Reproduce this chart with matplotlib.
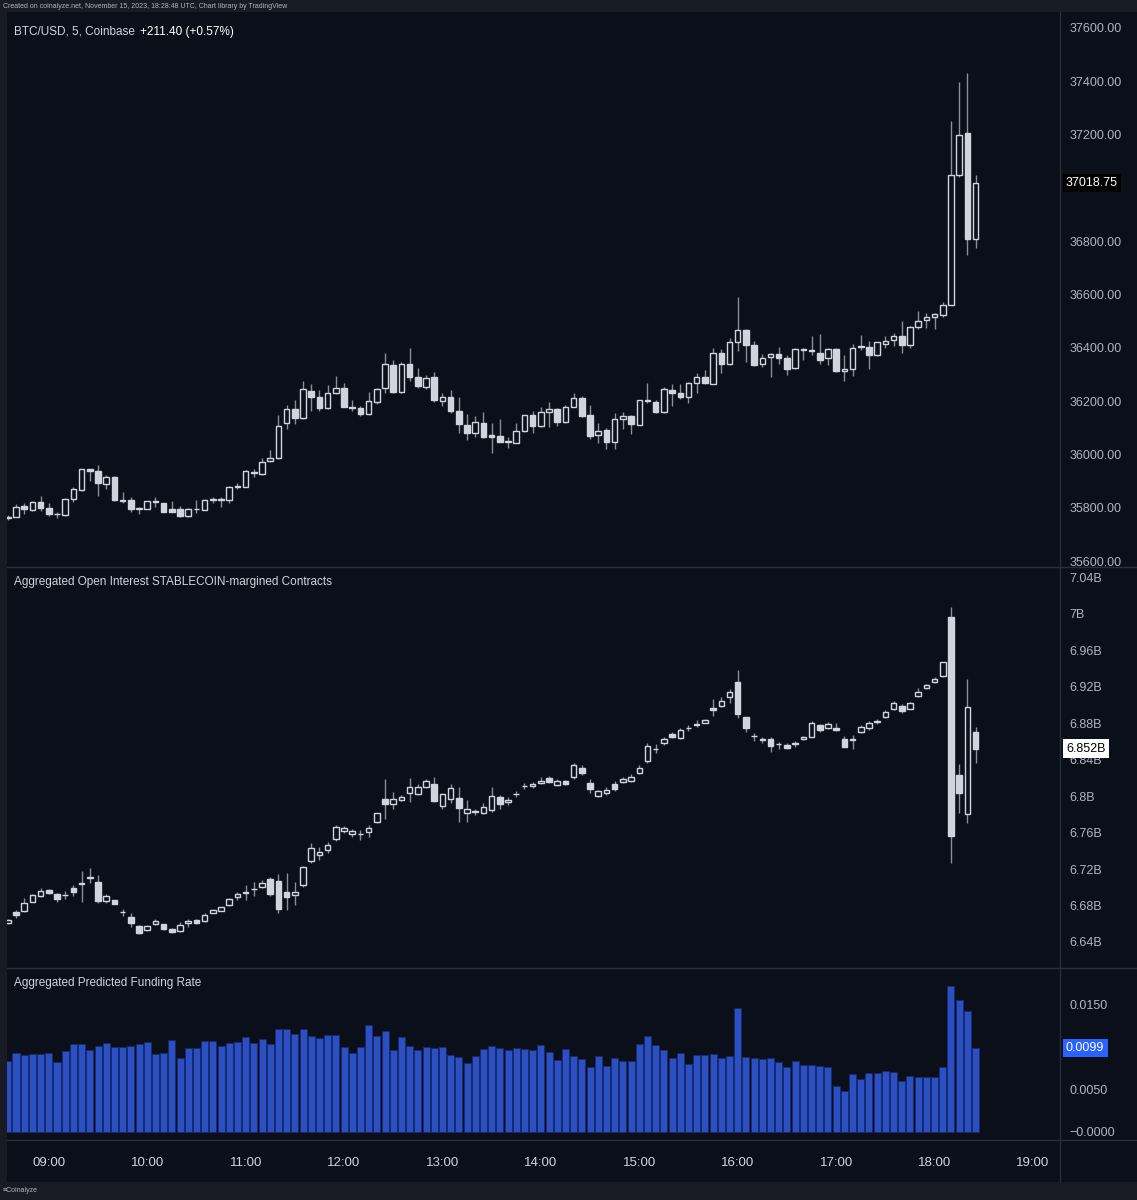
import numpy as np
import matplotlib.pyplot as plt
import matplotlib.transforms as mtransforms
from matplotlib.patches import Rectangle
from matplotlib.lines import Line2D

plt.rcParams['font.family'] = ['Liberation Sans', 'DejaVu Sans']

# 5 minute bars, first bar 08:35, last bar 18:25
time_labels = ["09:00", "10:00", "11:00", "12:00", "13:00", "14:00",
               "15:00", "16:00", "17:00", "18:00", "19:00"]
first_tick_bar = 5      # 09:00 is the 6th bar
bars_per_hour = 12

price_open = [35760, 35766, 35806, 35791, 35821, 35800, 35778, 35771, 35832, 35866,
              35944, 35939, 35889, 35916, 35830, 35829, 35799, 35796, 35824, 35816,
              35794, 35795, 35769, 35796, 35791, 35832, 35830, 35829, 35877, 35876,
              35932, 35926, 35975, 35985, 36116, 36169, 36135, 36239, 36215, 36173,
              36229, 36251, 36176, 36173, 36150, 36198, 36248, 36334, 36234, 36341,
              36289, 36254, 36289, 36200, 36216, 36163, 36109, 36081, 36119, 36071,
              36070, 36049, 36044, 36088, 36146, 36106, 36159, 36170, 36120, 36179,
              36213, 36146, 36071, 36090, 36046, 36131, 36144, 36111, 36203, 36198,
              36160, 36241, 36231, 36216, 36269, 36289, 36266, 36379, 36338, 36420,
              36466, 36410, 36339, 36364, 36375, 36362, 36325, 36395, 36390, 36382,
              36360, 36396, 36314, 36319, 36402, 36404, 36372, 36416, 36429, 36446,
              36412, 36479, 36504, 36514, 36522, 36562, 37050, 37206, 36807]
price_high = [35772, 35814, 35816, 35826, 35844, 35816, 35785, 35835, 35876, 35946,
              35946, 35960, 35924, 35919, 35860, 35841, 35801, 35826, 35839, 35819,
              35826, 35806, 35800, 35829, 35831, 35841, 35839, 35881, 35891, 35941,
              35944, 35985, 36016, 36147, 36185, 36206, 36275, 36266, 36241, 36262,
              36294, 36269, 36206, 36181, 36234, 36248, 36379, 36356, 36348, 36398,
              36323, 36298, 36310, 36231, 36241, 36214, 36151, 36144, 36160, 36119,
              36131, 36066, 36116, 36149, 36164, 36179, 36198, 36173, 36185, 36229,
              36219, 36185, 36116, 36098, 36156, 36158, 36148, 36206, 36269, 36204,
              36254, 36263, 36266, 36273, 36304, 36316, 36398, 36395, 36435, 36589,
              36469, 36426, 36376, 36379, 36404, 36372, 36401, 36398, 36445, 36450,
              36401, 36401, 36372, 36414, 36448, 36425, 36422, 36444, 36457, 36500,
              36481, 36539, 36529, 36531, 36570, 37250, 37396, 37432, 37048]
price_low = [35754, 35764, 35776, 35789, 35786, 35769, 35760, 35770, 35822, 35864,
             35901, 35845, 35869, 35827, 35816, 35785, 35776, 35795, 35804, 35784,
             35782, 35764, 35766, 35779, 35790, 35819, 35804, 35816, 35869, 35876,
             35914, 35922, 35970, 35981, 36094, 36114, 36132, 36164, 36163, 36169,
             36226, 36176, 36164, 36144, 36148, 36188, 36229, 36231, 36229, 36276,
             36250, 36245, 36196, 36183, 36154, 36079, 36054, 36066, 36060, 36006,
             36045, 36023, 36041, 36085, 36081, 36101, 36104, 36106, 36116, 36176,
             36141, 36056, 36044, 36021, 36019, 36094, 36076, 36109, 36194, 36154,
             36156, 36181, 36209, 36194, 36229, 36264, 36264, 36304, 36335, 36389,
             36348, 36331, 36329, 36291, 36341, 36297, 36322, 36354, 36372, 36341,
             36337, 36311, 36276, 36296, 36391, 36322, 36370, 36401, 36406, 36379,
             36398, 36471, 36473, 36469, 36516, 36560, 37042, 36748, 36773]
price_close = [35766, 35804, 35794, 35821, 35799, 35776, 35775, 35832, 35869, 35944,
               35939, 35891, 35916, 35829, 35827, 35795, 35796, 35825, 35821, 35785,
               35782, 35769, 35795, 35794, 35829, 35830, 35832, 35876, 35880, 35939,
               35935, 35972, 35988, 36108, 36172, 36138, 36244, 36214, 36173, 36229,
               36251, 36179, 36174, 36151, 36201, 36245, 36338, 36234, 36341, 36289,
               36256, 36288, 36203, 36216, 36163, 36113, 36081, 36120, 36066, 36066,
               36048, 36046, 36088, 36146, 36106, 36159, 36170, 36120, 36176, 36213,
               36144, 36070, 36088, 36045, 36133, 36145, 36114, 36204, 36200, 36160,
               36245, 36231, 36216, 36269, 36289, 36269, 36379, 36339, 36420, 36466,
               36410, 36337, 36362, 36375, 36362, 36320, 36396, 36392, 36387, 36356,
               36396, 36314, 36322, 36401, 36405, 36372, 36420, 36426, 36446, 36410,
               36479, 36500, 36514, 36526, 36562, 37050, 37198, 36807, 37018.75]

# open interest, billions USD
oi_open = [6.6605, 6.6732, 6.6743, 6.6838, 6.6908, 6.6966, 6.6922, 6.6919, 6.6995, 6.7047,
           6.7105, 6.7061, 6.6853, 6.6857, 6.6732, 6.6678, 6.6572, 6.6532, 6.6597, 6.6594,
           6.6542, 6.6524, 6.6608, 6.6645, 6.6634, 6.6721, 6.6743, 6.6805, 6.6890, 6.6941,
           6.6977, 6.7006, 6.7090, 6.7072, 6.6952, 6.6915, 6.7025, 6.7291, 6.7350, 6.7408,
           6.7532, 6.7620, 6.7580, 6.7587, 6.7609, 6.7719, 6.7967, 6.7909, 6.7956, 6.8029,
           6.8022, 6.8095, 6.8131, 6.7894, 6.7963, 6.7982, 6.7810, 6.7832, 6.7817, 6.7847,
           6.7993, 6.7930, 6.8018, 6.8106, 6.8113, 6.8142, 6.8194, 6.8124, 6.8168, 6.8212,
           6.8307, 6.8139, 6.7999, 6.8029, 6.8128, 6.8153, 6.8164, 6.8256, 6.8387, 6.8511,
           6.8577, 6.8680, 6.8639, 6.8742, 6.8782, 6.8804, 6.8968, 6.8986, 6.9081, 6.9253,
           6.8862, 6.8661, 6.8625, 6.8621, 6.8574, 6.8555, 6.8574, 6.8621, 6.8650, 6.8775,
           6.8745, 6.8749, 6.8628, 6.8625, 6.8698, 6.8745, 6.8811, 6.8869, 6.8950, 6.8990,
           6.8957, 6.9096, 6.9180, 6.9249, 6.9315, 6.9958, 6.8230, 6.7799, 6.8705]
oi_high = [6.6652, 6.6751, 6.6879, 6.6922, 6.6995, 6.6984, 6.6941, 6.6959, 6.7021, 6.7178,
           6.7215, 6.7134, 6.6926, 6.6864, 6.6765, 6.6721, 6.6583, 6.6586, 6.6652, 6.6601,
           6.6557, 6.6619, 6.6656, 6.6652, 6.6721, 6.6758, 6.6787, 6.6886, 6.6952, 6.7025,
           6.7054, 6.7079, 6.7116, 6.7145, 6.7153, 6.7061, 6.7233, 6.7481, 6.7437, 6.7500,
           6.7679, 6.7671, 6.7638, 6.7627, 6.7682, 6.7817, 6.8183, 6.8040, 6.8011, 6.8194,
           6.8131, 6.8183, 6.8212, 6.8029, 6.8128, 6.8095, 6.7956, 6.7854, 6.7927, 6.8095,
           6.8011, 6.7985, 6.8058, 6.8139, 6.8157, 6.8212, 6.8219, 6.8183, 6.8175, 6.8365,
           6.8336, 6.8183, 6.8066, 6.8095, 6.8168, 6.8205, 6.8241, 6.8340, 6.8577, 6.8570,
           6.8643, 6.8701, 6.8742, 6.8778, 6.8833, 6.8840, 6.9059, 6.9089, 6.9169, 6.9381,
           6.8869, 6.8694, 6.8650, 6.8650, 6.8595, 6.8584, 6.8606, 6.8658, 6.8822, 6.8789,
           6.8807, 6.8796, 6.8658, 6.8668, 6.8778, 6.8818, 6.8840, 6.8942, 6.9041, 6.9008,
           6.9034, 6.9180, 6.9224, 6.9308, 6.9472, 7.0068, 6.8347, 6.9278, 6.8753]
oi_low = [6.6597, 6.6659, 6.6732, 6.6835, 6.6897, 6.6930, 6.6842, 6.6868, 6.6904, 6.6835,
          6.7043, 6.6824, 6.6831, 6.6813, 6.6685, 6.6561, 6.6488, 6.6521, 6.6590, 6.6532,
          6.6499, 6.6510, 6.6561, 6.6601, 6.6623, 6.6714, 6.6740, 6.6795, 6.6860, 6.6860,
          6.6904, 6.6988, 6.6904, 6.6714, 6.6751, 6.6805, 6.6999, 6.7262, 6.7299, 6.7379,
          6.7511, 6.7591, 6.7547, 6.7518, 6.7554, 6.7708, 6.7744, 6.7854, 6.7945, 6.7938,
          6.8011, 6.8088, 6.7938, 6.7861, 6.7927, 6.7719, 6.7719, 6.7792, 6.7803, 6.7821,
          6.7854, 6.7900, 6.7985, 6.8073, 6.8091, 6.8131, 6.8139, 6.8110, 6.8124, 6.8183,
          6.8234, 6.8037, 6.7985, 6.8007, 6.8058, 6.8139, 6.8153, 6.8241, 6.8365, 6.8475,
          6.8559, 6.8632, 6.8621, 6.8716, 6.8753, 6.8796, 6.8877, 6.8972, 6.9016, 6.8851,
          6.8705, 6.8606, 6.8585, 6.8486, 6.8511, 6.8519, 6.8541, 6.8614, 6.8643, 6.8701,
          6.8731, 6.8712, 6.8533, 6.8515, 6.8687, 6.8723, 6.8789, 6.8858, 6.8942, 6.8906,
          6.8950, 6.9081, 6.9173, 6.9242, 6.9308, 6.7262, 6.7817, 6.7700, 6.8358]
oi_close = [6.6641, 6.6696, 6.6831, 6.6911, 6.6955, 6.6941, 6.6868, 6.6911, 6.6948, 6.7039,
            6.7112, 6.6849, 6.6904, 6.6816, 6.6725, 6.6605, 6.6502, 6.6572, 6.6630, 6.6539,
            6.6510, 6.6590, 6.6630, 6.6608, 6.6696, 6.6751, 6.6780, 6.6871, 6.6922, 6.6948,
            6.6984, 6.7043, 6.6922, 6.6765, 6.6897, 6.6948, 6.7226, 6.7427, 6.7383, 6.7463,
            6.7664, 6.7646, 6.7616, 6.7580, 6.7653, 6.7810, 6.7912, 6.7967, 6.7993, 6.8095,
            6.8102, 6.8168, 6.7949, 6.8018, 6.8084, 6.7865, 6.7861, 6.7825, 6.7876, 6.8000,
            6.7909, 6.7960, 6.8026, 6.8113, 6.8135, 6.8168, 6.8150, 6.8168, 6.8131, 6.8336,
            6.8256, 6.8080, 6.8058, 6.8066, 6.8073, 6.8186, 6.8212, 6.8303, 6.8552, 6.8519,
            6.8621, 6.8650, 6.8727, 6.8749, 6.8789, 6.8829, 6.8942, 6.9037, 6.9140, 6.8899,
            6.8742, 6.8654, 6.8617, 6.8548, 6.8566, 6.8530, 6.8581, 6.8643, 6.8796, 6.8723,
            6.8789, 6.8720, 6.8541, 6.8617, 6.8760, 6.8796, 6.8818, 6.8924, 6.9023, 6.8931,
            6.9023, 6.9140, 6.9213, 6.9282, 6.9465, 6.7562, 6.8037, 6.8979, 6.8520]

funding = [0.00836, 0.00926, 0.00906, 0.00918, 0.00918, 0.00926, 0.00820, 0.00945, 0.01035, 0.01031,
           0.00965, 0.01004, 0.01043, 0.01000, 0.01000, 0.01012, 0.01031, 0.01055, 0.00918, 0.00926,
           0.01082, 0.00863, 0.00988, 0.00984, 0.01066, 0.01066, 0.01012, 0.01047, 0.01051, 0.01109,
           0.01047, 0.01086, 0.01035, 0.01207, 0.01203, 0.01145, 0.01207, 0.01121, 0.01105, 0.01133,
           0.01133, 0.01000, 0.00930, 0.01000, 0.01250, 0.01121, 0.01184, 0.00961, 0.01113, 0.01012,
           0.00965, 0.01000, 0.00984, 0.01000, 0.00906, 0.00875, 0.00809, 0.00891, 0.00973, 0.01008,
           0.00984, 0.00965, 0.00984, 0.00977, 0.00965, 0.01020, 0.00941, 0.00844, 0.00977, 0.00891,
           0.00852, 0.00758, 0.00891, 0.00777, 0.00863, 0.00832, 0.00836, 0.01027, 0.01121, 0.01016,
           0.00961, 0.00863, 0.00926, 0.00801, 0.00906, 0.00902, 0.00914, 0.00871, 0.00895, 0.01453,
           0.00879, 0.00867, 0.00855, 0.00867, 0.00824, 0.00766, 0.00836, 0.00785, 0.00785, 0.00773,
           0.00762, 0.00539, 0.00480, 0.00684, 0.00621, 0.00695, 0.00695, 0.00719, 0.00707, 0.00598,
           0.00652, 0.00645, 0.00641, 0.00641, 0.00762, 0.01711, 0.01547, 0.01422, 0.00988]

price_ticks = [35600, 35800, 36000, 36200, 36400, 36600, 36800, 37000, 37200, 37400, 37600]
oi_ticks = [6.64, 6.68, 6.72, 6.76, 6.80, 6.84, 6.88, 6.92, 6.96, 7.00, 7.04]
funding_ticks = [0.0, 0.005, 0.015]
funding_tick_labels = ["\u22120.0000", "0.0050", "0.0150"]

# colours
BG = '#0b0f19'
STRIP = '#181b23'
SEP = '#2a2e39'
TXT = '#b2b5be'
WICK = '#8b8e97'
CANDLE = '#d1d4dc'
BLUE = '#2b4fc4'

W, H = 1137, 1200
fig = plt.figure(figsize=(W / 100, H / 100), dpi=100, facecolor=BG)


def px_axes(x0, y0, x1, y1):
    ax = fig.add_axes([x0 / W, 1 - y1 / H, (x1 - x0) / W, (y1 - y0) / H])
    ax.set_facecolor(BG)
    for s in ax.spines.values():
        s.set_visible(False)
    ax.yaxis.tick_right()
    ax.tick_params(axis='y', length=0, pad=7, labelsize=9, labelcolor=TXT)
    ax.tick_params(axis='x', length=0, labelbottom=False)
    ax.set_xlim(-0.1, 128.3)
    return ax


def candles(ax, o, h, l, c):
    o, h, l, c = map(np.asarray, (o, h, l, c))
    x = np.arange(len(o))
    up = c >= o
    lo = np.minimum(o, c)
    size = np.abs(c - o)
    ax.vlines(x, l, h, color=WICK, lw=1.0, zorder=1)
    ax.bar(x[up], size[up], bottom=lo[up], width=0.68, color=BG,
           edgecolor=CANDLE, linewidth=1.0, zorder=2)
    ax.bar(x[~up], size[~up], bottom=lo[~up], width=0.68, color=CANDLE,
           edgecolor=CANDLE, linewidth=1.0, zorder=2)


def last_label(ax, value, text, fc, tc):
    trans = mtransforms.blended_transform_factory(ax.transAxes, ax.transData)
    ax.text(1 + 6 / 1053, value, text, transform=trans, va='center', ha='left',
            fontsize=9, color=tc, clip_on=False, zorder=10,
            bbox=dict(boxstyle='square,pad=0.25', fc=fc, ec='none'))


# price panel
ax1 = px_axes(7, 12, 1060, 567)
candles(ax1, price_open, price_high, price_low, price_close)
ax1.set_ylim(35577.5, 37660)
ax1.set_yticks(price_ticks)
ax1.set_yticklabels([f"{v:.2f}" for v in price_ticks])
last_label(ax1, price_close[-1], f"{price_close[-1]:.2f}", '#000000', '#ffffff')

# open interest panel
ax2 = px_axes(7, 567, 1060, 968)
candles(ax2, oi_open, oi_high, oi_low, oi_close)
ax2.set_ylim(6.6115, 7.051)
ax2.set_yticks(oi_ticks)
ax2.set_yticklabels([f"{round(v, 2):g}B" for v in oi_ticks])
last_label(ax2, oi_close[-1], f"{oi_close[-1]:.3f}B", '#ffffff', '#000000')

# funding panel
ax3 = px_axes(7, 968, 1060, 1140)
ax3.bar(np.arange(len(funding)), funding, width=0.86, color=BLUE,
        edgecolor='#1a2a66', linewidth=0.6)
ax3.set_ylim(-0.00094, 0.01922)
ax3.set_yticks(funding_ticks)
ax3.set_yticklabels(funding_tick_labels)
last_label(ax3, funding[-1], f"{funding[-1]:.4f}", '#2962ff', '#ffffff')

# time axis labels
ax3.set_xticks([first_tick_bar + bars_per_hour * k for k in range(len(time_labels))])
ax3.set_xticklabels(time_labels)
ax3.tick_params(axis='x', labelbottom=True, labelsize=9.5, labelcolor='#d1d4dc', pad=12)

# frame: strips and separators
fig.patches.append(Rectangle((0, 1 - 12 / H), 1, 12 / H, transform=fig.transFigure,
                             fc=STRIP, ec='none', zorder=0))
fig.patches.append(Rectangle((0, 0), 1, 18 / H, transform=fig.transFigure,
                             fc=STRIP, ec='none', zorder=0))
fig.patches.append(Rectangle((0, 18 / H), 7 / W, (1182 - 12) / H, transform=fig.transFigure,
                             fc=STRIP, ec='none', zorder=0))
for yy in [567, 968, 1140]:
    fig.lines.append(Line2D([7 / W, 1], [1 - yy / H] * 2, transform=fig.transFigure,
                            color=SEP, lw=1))
fig.lines.append(Line2D([1060 / W] * 2, [18 / H, 1 - 12 / H], transform=fig.transFigure,
                        color=SEP, lw=1))

# titles
fig.text(3 / W, 1 - 6 / H, "Created on coinalyze.net, November 15, 2023, 18:28:48 UTC, Chart library by TradingView",
         fontsize=5, color=TXT, va='center')
fig.text(14 / W, 1 - 32 / H, "BTC/USD, 5, Coinbase", fontsize=8.5, color='#d1d4dc', va='center')
fig.text(140 / W, 1 - 32 / H, "+211.40 (+0.57%)", fontsize=8.5, color='#ffffff', va='center')
fig.text(14 / W, 1 - 582 / H, "Aggregated Open Interest STABLECOIN-margined Contracts",
         fontsize=8.5, color='#d1d4dc', va='center')
fig.text(14 / W, 1 - 983 / H, "Aggregated Predicted Funding Rate",
         fontsize=8.5, color='#d1d4dc', va='center')
fig.text(3 / W, 1 - 1191 / H, "\u2261Coinalyze", fontsize=5, color=TXT, va='center')

fig.savefig("out.png", dpi=100, facecolor=BG)
